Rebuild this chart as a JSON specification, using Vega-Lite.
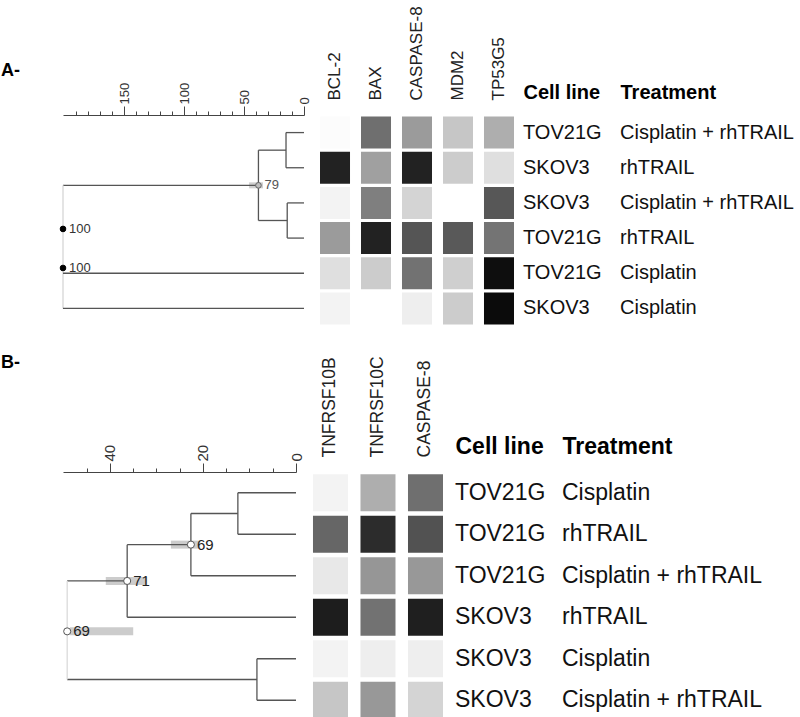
{
  "$schema": "https://vega.github.io/schema/vega-lite/v6.json",
  "autosize": {"type": "pad"},
  "padding": {"left": 1, "top": 5, "right": 0, "bottom": 0},
  "background": "white",
  "config": {
    "view": {"stroke": null},
    "font": "Liberation Sans",
    "text": {"font": "Liberation Sans"}
  },
  "spacing": 28,
  "datasets": {
    "segA": [
      {"d": 15, "d2": 0, "y": 0.5, "y2": 0.5},
      {"d": 15, "d2": 0, "y": 1.5, "y2": 1.5},
      {"d": 15, "d2": 15, "y": 0.5, "y2": 1.5},
      {"d": 14, "d2": 0, "y": 2.5, "y2": 2.5},
      {"d": 14, "d2": 0, "y": 3.5, "y2": 3.5},
      {"d": 14, "d2": 14, "y": 2.5, "y2": 3.5},
      {"d": 38, "d2": 15, "y": 1, "y2": 1},
      {"d": 38, "d2": 14, "y": 3, "y2": 3},
      {"d": 38, "d2": 38, "y": 1, "y2": 3},
      {"d": 201, "d2": 38, "y": 2, "y2": 2},
      {"d": 201, "d2": 201, "y": 2, "y2": 5.5, "kind": "root"},
      {"d": 201, "d2": 0, "y": 4.5, "y2": 4.5},
      {"d": 201, "d2": 0, "y": 5.5, "y2": 5.5}
    ],
    "nodesA": [
      {"d": 38, "y": 2, "s": 79},
      {"d": 201, "y": 3.24, "s": 100},
      {"d": 201, "y": 4.35, "s": 100}
    ],
    "barsA": [{"d": 45.8, "d2": 34.2, "y": 2}],
    "segB": [
      {"d": 12.5, "d2": 0, "y": 0.5, "y2": 0.5},
      {"d": 12.5, "d2": 0, "y": 1.5, "y2": 1.5},
      {"d": 12.5, "d2": 12.5, "y": 0.5, "y2": 1.5},
      {"d": 22.6, "d2": 12.5, "y": 1, "y2": 1},
      {"d": 22.6, "d2": 0, "y": 2.5, "y2": 2.5},
      {"d": 22.6, "d2": 22.6, "y": 1, "y2": 2.5},
      {"d": 36.3, "d2": 22.6, "y": 1.75, "y2": 1.75},
      {"d": 36.3, "d2": 0, "y": 3.5, "y2": 3.5},
      {"d": 36.3, "d2": 36.3, "y": 1.75, "y2": 3.5},
      {"d": 8.4, "d2": 0, "y": 4.5, "y2": 4.5},
      {"d": 8.4, "d2": 0, "y": 5.5, "y2": 5.5},
      {"d": 8.4, "d2": 8.4, "y": 4.5, "y2": 5.5},
      {"d": 49.2, "d2": 36.3, "y": 2.625, "y2": 2.625},
      {"d": 49.2, "d2": 8.4, "y": 5, "y2": 5},
      {"d": 49.2, "d2": 49.2, "y": 2.625, "y2": 5, "kind": "root"}
    ],
    "nodesB": [
      {"d": 22.6, "y": 1.75, "s": 69},
      {"d": 36.3, "y": 2.625, "s": 71},
      {"d": 49.2, "y": 3.84, "s": 69}
    ],
    "barsB": [
      {"d": 26.9, "d2": 20.6, "y": 1.75},
      {"d": 40.9, "d2": 32, "y": 2.625},
      {"d": 48.6, "d2": 35, "y": 3.84}
    ],
    "heatA": [
      {"row": 1, "Cell line": "TOV21G", "Treatment": "Cisplatin + rhTRAIL", "BCL-2": 0.01, "BAX": 0.53, "CASPASE-8": 0.36, "MDM2": 0.2, "TP53G5": 0.29},
      {"row": 2, "Cell line": "SKOV3", "Treatment": "rhTRAIL", "BCL-2": 0.87, "BAX": 0.34, "CASPASE-8": 0.87, "MDM2": 0.18, "TP53G5": 0.11},
      {"row": 3, "Cell line": "SKOV3", "Treatment": "Cisplatin + rhTRAIL", "BCL-2": 0.04, "BAX": 0.47, "CASPASE-8": 0.15, "MDM2": 0.0, "TP53G5": 0.63},
      {"row": 4, "Cell line": "TOV21G", "Treatment": "rhTRAIL", "BCL-2": 0.36, "BAX": 0.87, "CASPASE-8": 0.64, "MDM2": 0.62, "TP53G5": 0.51},
      {"row": 5, "Cell line": "TOV21G", "Treatment": "Cisplatin", "BCL-2": 0.11, "BAX": 0.18, "CASPASE-8": 0.52, "MDM2": 0.17, "TP53G5": 0.96},
      {"row": 6, "Cell line": "SKOV3", "Treatment": "Cisplatin", "BCL-2": 0.04, "BAX": 0.0, "CASPASE-8": 0.06, "MDM2": 0.18, "TP53G5": 0.97}
    ],
    "heatB": [
      {"row": 1, "Cell line": "TOV21G", "Treatment": "Cisplatin", "TNFRSF10B": 0.04, "TNFRSF10C": 0.29, "CASPASE-8": 0.53},
      {"row": 2, "Cell line": "TOV21G", "Treatment": "rhTRAIL", "TNFRSF10B": 0.57, "TNFRSF10C": 0.82, "CASPASE-8": 0.65},
      {"row": 3, "Cell line": "TOV21G", "Treatment": "Cisplatin + rhTRAIL", "TNFRSF10B": 0.08, "TNFRSF10C": 0.38, "CASPASE-8": 0.37},
      {"row": 4, "Cell line": "SKOV3", "Treatment": "rhTRAIL", "TNFRSF10B": 0.89, "TNFRSF10C": 0.52, "CASPASE-8": 0.88},
      {"row": 5, "Cell line": "SKOV3", "Treatment": "Cisplatin", "TNFRSF10B": 0.04, "TNFRSF10C": 0.06, "CASPASE-8": 0.06},
      {"row": 6, "Cell line": "SKOV3", "Treatment": "Cisplatin + rhTRAIL", "TNFRSF10B": 0.2, "TNFRSF10C": 0.37, "CASPASE-8": 0.15}
    ]
  },
  "vconcat": [
    {
      "bounds": "flush",
      "spacing": 0,
      "hconcat": [
        {
          "width": 241,
          "height": 211,
          "title": {"text": "A-", "anchor": "start", "frame": "group", "fontSize": 18, "fontWeight": "bold", "color": "#000", "dx": -62, "offset": 2, "font": "Liberation Sans"},
          "encoding": {
            "x": {
              "field": "d", "type": "quantitative",
              "scale": {"domain": [201, 0], "nice": false, "zero": false},
              "axis": {
                "orient": "top", "title": null, "grid": false,
                "values": [0, 10, 20, 30, 40, 50, 60, 70, 80, 90, 100, 110, 120, 130, 140, 150, 160, 170, 180, 190],
                "domainColor": "#444", "tickColor": "#444", "domainWidth": 1.2,
                "tickSize": {"condition": {"test": "datum.value % 50 === 0", "value": 9}, "value": 4},
                "labelExpr": "datum.value % 50 === 0 ? datum.label : ''",
                "labelAngle": 270, "labelAlign": "left", "labelBaseline": "middle",
                "labelFontSize": 13, "labelColor": "#333", "labelPadding": 2,
                "labelOverlap": false, "labelFlush": false
              }
            },
            "y": {"field": "y", "type": "quantitative", "scale": {"domain": [0, 6], "reverse": true, "nice": false, "zero": false}, "axis": null}
          },
          "layer": [
            {
              "data": {"name": "barsA"},
              "mark": {"type": "rule", "strokeWidth": 6, "color": "#cfcfcf"},
              "encoding": {"x2": {"field": "d2"}}
            },
            {
              "data": {"name": "segA"},
              "mark": {"type": "rule", "strokeWidth": 1.3},
              "encoding": {
                "x2": {"field": "d2"},
                "y2": {"field": "y2"},
                "color": {"condition": {"test": "datum.kind === 'root'", "value": "#d6d6d6"}, "value": "#555555"}
              }
            },
            {
              "data": {"name": "nodesA"},
              "mark": {"type": "point", "filled": true, "size": 32, "strokeWidth": 1, "opacity": 1},
              "encoding": {
                "fill": {"condition": {"test": "datum.s === 100", "value": "#000000"}, "value": "#bdbdbd"},
                "stroke": {"condition": {"test": "datum.s === 100", "value": "#000000"}, "value": "#666666"}
              }
            },
            {
              "data": {"name": "nodesA"},
              "mark": {"type": "text", "align": "left", "baseline": "middle", "dx": 6, "fontSize": 13},
              "encoding": {
                "text": {"field": "s", "type": "quantitative"},
                "color": {"condition": {"test": "datum.s === 100", "value": "#333333"}, "value": "#555555"}
              }
            }
          ]
        },
        {
          "width": 219,
          "height": 211,
          "data": {"name": "heatA"},
          "transform": [{"fold": ["BCL-2", "BAX", "CASPASE-8", "MDM2", "TP53G5"], "as": ["gene", "v"]}],
          "mark": {"type": "rect"},
          "encoding": {
            "x": {
              "field": "gene", "type": "nominal",
              "sort": ["BCL-2", "BAX", "CASPASE-8", "MDM2", "TP53G5"],
              "scale": {"paddingInner": 0.268, "paddingOuter": 0.305, "align": 0.64},
              "axis": {"orient": "top", "title": null, "ticks": false, "tickSize": 0, "domain": false, "labelAngle": 270, "labelAlign": "left", "labelBaseline": "middle", "labelFontSize": 17, "labelColor": "#222", "labelPadding": 15, "labelFont": "Liberation Sans"}
            },
            "y": {"field": "row", "type": "ordinal", "scale": {"paddingInner": 0.09, "paddingOuter": 0.045}, "axis": null},
            "color": {"field": "v", "type": "quantitative", "scale": {"domain": [0, 1], "range": ["#ffffff", "#000000"]}, "legend": null}
          }
        },
        {
          "width": 97,
          "height": 211,
          "data": {"name": "heatA"},
          "transform": [{"fold": ["Cell line", "Treatment"], "as": ["col", "val"]}],
          "mark": {"type": "text", "align": "left", "baseline": "middle", "fontSize": 20, "color": "#111"},
          "encoding": {
            "x": {
              "field": "col", "type": "nominal",
              "scale": {"type": "point", "padding": 0},
              "axis": {"orient": "top", "title": null, "ticks": false, "tickSize": 0, "domain": false, "labelAngle": 0, "labelAlign": "left", "labelBaseline": "alphabetic", "labelFontSize": 20, "labelFontWeight": "bold", "labelColor": "#000", "labelPadding": 17, "labelFont": "Liberation Sans"}
            },
            "y": {"field": "row", "type": "ordinal", "axis": null},
            "text": {"field": "val"}
          }
        }
      ]
    },
    {
      "bounds": "flush",
      "spacing": 0,
      "hconcat": [
        {
          "width": 233,
          "height": 249,
          "title": {"text": "B-", "anchor": "start", "frame": "group", "fontSize": 18, "fontWeight": "bold", "color": "#000", "dx": -62, "offset": 72, "font": "Liberation Sans"},
          "encoding": {
            "x": {
              "field": "d", "type": "quantitative",
              "scale": {"domain": [50.1, 0], "nice": false, "zero": false},
              "axis": {
                "orient": "top", "title": null, "grid": false,
                "values": [0, 5, 10, 15, 20, 25, 30, 35, 40, 45],
                "domainColor": "#444", "tickColor": "#444", "domainWidth": 1.2,
                "tickSize": {"condition": {"test": "datum.value % 20 === 0", "value": 9}, "value": 4},
                "labelExpr": "datum.value % 20 === 0 ? datum.label : ''",
                "labelAngle": 270, "labelAlign": "left", "labelBaseline": "middle",
                "labelFontSize": 15, "labelColor": "#333", "labelPadding": 2,
                "labelOverlap": false, "labelFlush": false
              }
            },
            "y": {"field": "y", "type": "quantitative", "scale": {"domain": [0, 6], "reverse": true, "nice": false, "zero": false}, "axis": null}
          },
          "layer": [
            {
              "data": {"name": "barsB"},
              "mark": {"type": "rule", "strokeWidth": 8, "color": "#cccccc"},
              "encoding": {"x2": {"field": "d2"}}
            },
            {
              "data": {"name": "segB"},
              "mark": {"type": "rule", "strokeWidth": 1.3},
              "encoding": {
                "x2": {"field": "d2"},
                "y2": {"field": "y2"},
                "color": {"condition": {"test": "datum.kind === 'root'", "value": "#dadada"}, "value": "#555555"}
              }
            },
            {
              "data": {"name": "nodesB"},
              "mark": {"type": "point", "filled": true, "size": 50, "fill": "#ffffff", "stroke": "#555555", "strokeWidth": 1, "opacity": 1}
            },
            {
              "data": {"name": "nodesB"},
              "mark": {"type": "text", "align": "left", "baseline": "middle", "dx": 6, "fontSize": 15, "color": "#222"},
              "encoding": {"text": {"field": "s", "type": "quantitative"}}
            }
          ]
        },
        {
          "width": 159,
          "height": 249,
          "data": {"name": "heatB"},
          "transform": [{"fold": ["TNFRSF10B", "TNFRSF10C", "CASPASE-8"], "as": ["gene", "v"]}],
          "mark": {"type": "rect"},
          "encoding": {
            "x": {
              "field": "gene", "type": "nominal",
              "sort": ["TNFRSF10B", "TNFRSF10C", "CASPASE-8"],
              "scale": {"paddingInner": 0.263, "paddingOuter": 0.305, "align": 0.586},
              "axis": {"orient": "top", "title": null, "ticks": false, "tickSize": 0, "domain": false, "labelAngle": 270, "labelAlign": "left", "labelBaseline": "middle", "labelFontSize": 17.5, "labelColor": "#222", "labelPadding": 15, "labelFont": "Liberation Sans"}
            },
            "y": {"field": "row", "type": "ordinal", "scale": {"paddingInner": 0.11, "paddingOuter": 0.055}, "axis": null},
            "color": {"field": "v", "type": "quantitative", "scale": {"domain": [0, 1], "range": ["#ffffff", "#000000"]}, "legend": null}
          }
        },
        {
          "width": 107,
          "height": 249,
          "data": {"name": "heatB"},
          "transform": [{"fold": ["Cell line", "Treatment"], "as": ["col", "val"]}],
          "mark": {"type": "text", "align": "left", "baseline": "middle", "fontSize": 23, "color": "#111"},
          "encoding": {
            "x": {
              "field": "col", "type": "nominal",
              "scale": {"type": "point", "padding": 0},
              "axis": {"orient": "top", "title": null, "ticks": false, "tickSize": 0, "domain": false, "labelAngle": 0, "labelAlign": "left", "labelBaseline": "alphabetic", "labelFontSize": 23, "labelFontWeight": "bold", "labelColor": "#000", "labelPadding": 19, "labelFont": "Liberation Sans"}
            },
            "y": {"field": "row", "type": "ordinal", "axis": null},
            "text": {"field": "val"}
          }
        }
      ]
    }
  ]
}
